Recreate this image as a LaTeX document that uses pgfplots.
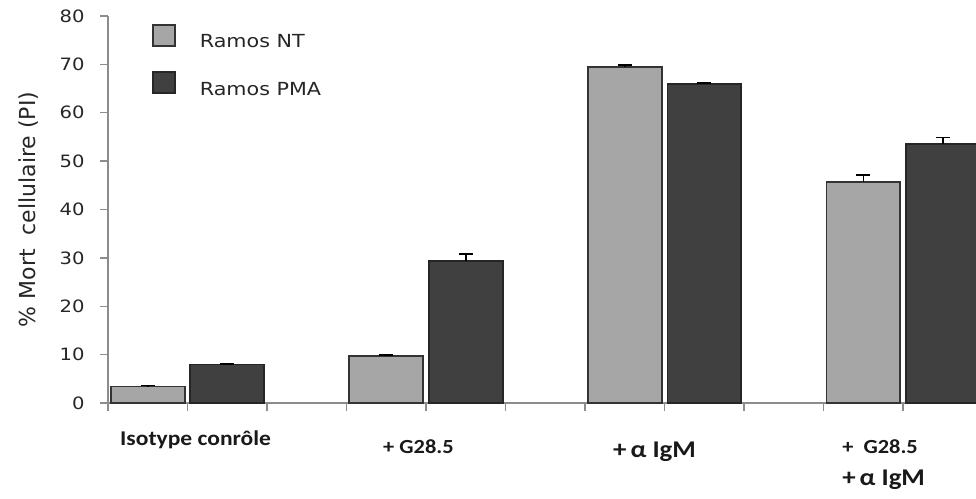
\documentclass[border=0pt]{standalone}
\usepackage{pgfplots}
\pgfplotsset{compat=1.18}
\usepackage{fontspec}
\setmainfont{DejaVu Sans}
\newfontfamily\tickfont[FakeStretch=1.15]{DejaVu Sans}
\newfontfamily\xlabfont[FakeStretch=1.12]{Carlito}
\definecolor{ntgray}{HTML}{A6A6A6}
\definecolor{pmagray}{HTML}{404040}
\definecolor{axgray}{HTML}{8C8C8C}
\definecolor{txt}{HTML}{262626}
\begin{document}
\begin{tikzpicture}
\useasboundingbox (0,0) rectangle (976pt,498pt);
\begin{axis}[
  at={(108pt,95pt)}, anchor=south west,
  scale only axis, width=868pt, height=387pt,
  xmin=0, xmax=10.918, ymin=0, ymax=80,
  axis x line*=bottom, axis y line*=left,
  axis line style={axgray, line width=1.3pt},
  /pgf/number format/assume math mode=true,
  xtick={0,1,...,11},
  xticklabels={{},{},{},{},{},{},{},{},{},{},{},{}},
  ytick={0,10,...,80},
  tick style={axgray, line width=1.3pt},
  major tick length=8pt,
  tick align=outside,
  yticklabel style={font=\tickfont\fontsize{17}{17}\selectfont, text=txt, xshift=-12pt},
  extra x ticks={0.151,3.459,6.352,9.233},
  extra x tick labels={
    {\raisebox{8pt}{\fontsize{21}{21}\selectfont Isotype conrôle}},
    {\fontsize{20}{20}\selectfont + G28.5},
    {\raisebox{-4pt}{\fontsize{24}{24}\selectfont +\,α IgM}},
    {\fontsize{20}{32}\selectfont\begin{tabular}[t]{@{}l@{}}+~~G28.5\\{\fontsize{24}{24}\selectfont +\,α IgM}\end{tabular}}},
  extra x tick style={major tick length=0pt,
    tick label style={anchor=base west, inner sep=0pt, yshift=-50pt,
      font=\xlabfont\bfseries, text=black!90}},
  ybar, bar shift=0pt, bar width=0.93,
  ylabel={\%~Mort~~cellulaire~(PI)},
  every axis y label/.style={at={(axis description cs:-0.092,0.5)}, rotate=90, anchor=center,
    font=\fontsize{22}{22}\selectfont, text=txt},
  legend style={at={(axis description cs:0.0507,0.979)}, anchor=north west,
    draw=none, fill=none, font=\tickfont\fontsize{18}{18}\selectfont, text=txt,
    row sep=20pt, column sep=22pt, inner sep=0pt},
  legend cell align=left,
  legend image code/.code={\draw[#1, line width=1.6pt] (0pt,-4pt) rectangle (22pt,17pt);},
]
\addplot[fill=ntgray, draw=black!80, line width=1.6pt,
  error bars/.cd, y dir=plus, y explicit,
  error bar style={black, line width=1.5pt},
  error mark options={black, line width=1.5pt, mark size=7pt, rotate=90}]
  coordinates {(0.5,3.4) +- (0,0.2) (3.5,9.7) +- (0,0.2) (6.5,69.5) +- (0,0.4) (9.5,45.7) +- (0,1.4)};
\addlegendentry{Ramos NT}
\addplot[fill=pmagray, draw=black!85, line width=1.6pt,
  error bars/.cd, y dir=plus, y explicit,
  error bar style={black, line width=1.5pt},
  error mark options={black, line width=1.5pt, mark size=7pt, rotate=90}]
  coordinates {(1.5,8.0) +- (0,0.1) (4.5,29.4) +- (0,1.4) (7.5,66.0) +- (0,0.1) (10.5,53.5) +- (0,1.4)};
\addlegendentry{Ramos PMA}
\end{axis}
\end{tikzpicture}
\end{document}
